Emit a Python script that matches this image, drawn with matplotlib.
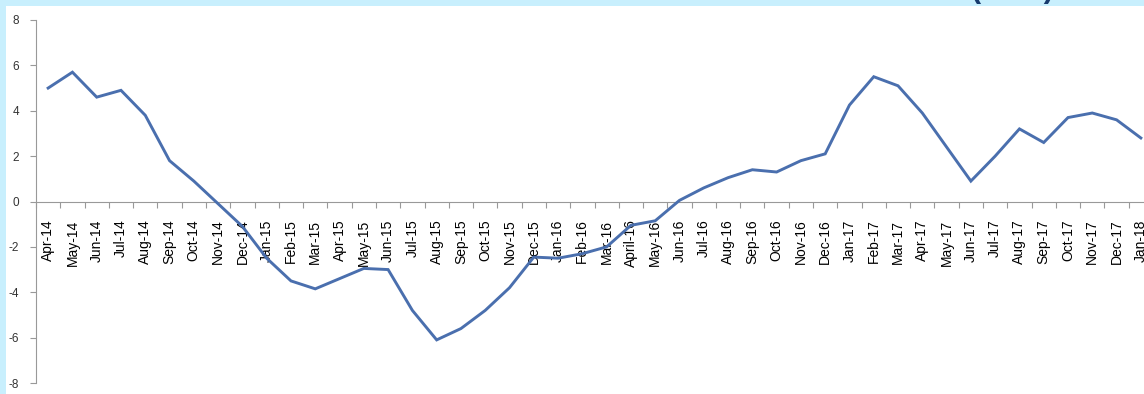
import matplotlib
matplotlib.use("Agg")
import matplotlib.pyplot as plt
from matplotlib.patches import Rectangle

months = ["Apr-14", "May-14", "Jun-14", "Jul-14", "Aug-14", "Sep-14", "Oct-14", "Nov-14",
          "Dec-14", "Jan-15", "Feb-15", "Mar-15", "Apr-15", "May-15", "Jun-15", "Jul-15",
          "Aug-15", "Sep-15", "Oct-15", "Nov-15", "Dec-15", "Jan-16", "Feb-16", "Mar-16",
          "April-16", "May-16", "Jun-16", "Jul-16", "Aug-16", "Sep-16", "Oct-16", "Nov-16",
          "Dec-16", "Jan-17", "Feb-17", "Mar-17", "Apr-17", "May-17", "Jun-17", "Jul-17",
          "Aug-17", "Sep-17", "Oct-17", "Nov-17", "Dec-17", "Jan-18"]
values = [5.0, 5.7, 4.6, 4.9, 3.8, 1.8, 0.9, -0.1,
          -1.1, -2.5, -3.5, -3.85, -3.4, -2.95, -3.0, -4.8,
          -6.1, -5.6, -4.8, -3.8, -2.45, -2.5, -2.3, -2.0,
          -1.05, -0.85, 0.05, 0.6, 1.05, 1.4, 1.3, 1.8,
          2.1, 4.25, 5.5, 5.1, 3.9, 2.4, 0.9, 2.0,
          3.2, 2.6, 3.7, 3.9, 3.6, 2.8]
yticks = [-8, -6, -4, -2, 0, 2, 4, 6, 8]

plt.rcParams['font.family'] = ['Liberation Sans', 'DejaVu Sans']

W, H = 1144, 394
fig = plt.figure(figsize=(W / 100, H / 100), dpi=100)
fig.patch.set_facecolor("white")

# light blue frame strips (top and left)
band = "#c8effd"
fig.patches.append(Rectangle((0, 1 - 6 / H), 1, 6 / H, transform=fig.transFigure,
                             facecolor=band, edgecolor="none", zorder=0))
fig.patches.append(Rectangle((0, 0), 6 / W, 1, transform=fig.transFigure,
                             facecolor=band, edgecolor="none", zorder=0))
# heading sits above the crop, only the bottom of the brackets shows
fig.text(1012 / W, 1 + 3 / H, "(in %)", ha="center", va="baseline", fontsize=22,
         fontweight="bold", color="#173b6e")

ax = fig.add_axes([36 / W, 11 / H, (1153 - 36) / W, 363 / H])
x = list(range(len(months)))
ax.plot(x, values, color="#4a6fae", lw=2.1, solid_joinstyle="miter", zorder=3)

ax.set_xlim(-0.5, len(months) - 0.5)
ax.set_ylim(-8, 8)
ax.set_yticks(yticks)
ax.set_yticklabels([str(v) for v in yticks], fontsize=8.5, color="#333333")

# category boundaries as ticks, labels centred on categories
ax.set_xticks([i - 0.5 for i in range(len(months) + 1)])
ax.set_xticklabels([])
ax.set_xticks(x, minor=True)
ax.set_xticklabels(months, minor=True, fontsize=8, color="#222222")
ax.tick_params(axis="x", which="minor", length=0, pad=13, labelrotation=90)
ax.tick_params(axis="x", which="major", length=4, color="#999999", direction="out")
ax.tick_params(axis="y", length=4, color="#999999", pad=8)

ax.spines["bottom"].set_position(("data", 0))
ax.spines["bottom"].set_color("#999999")
ax.spines["left"].set_color("#999999")
ax.spines["top"].set_visible(False)
ax.spines["right"].set_visible(False)
ax.set_facecolor("none")

fig.savefig("out.png", dpi=100)
